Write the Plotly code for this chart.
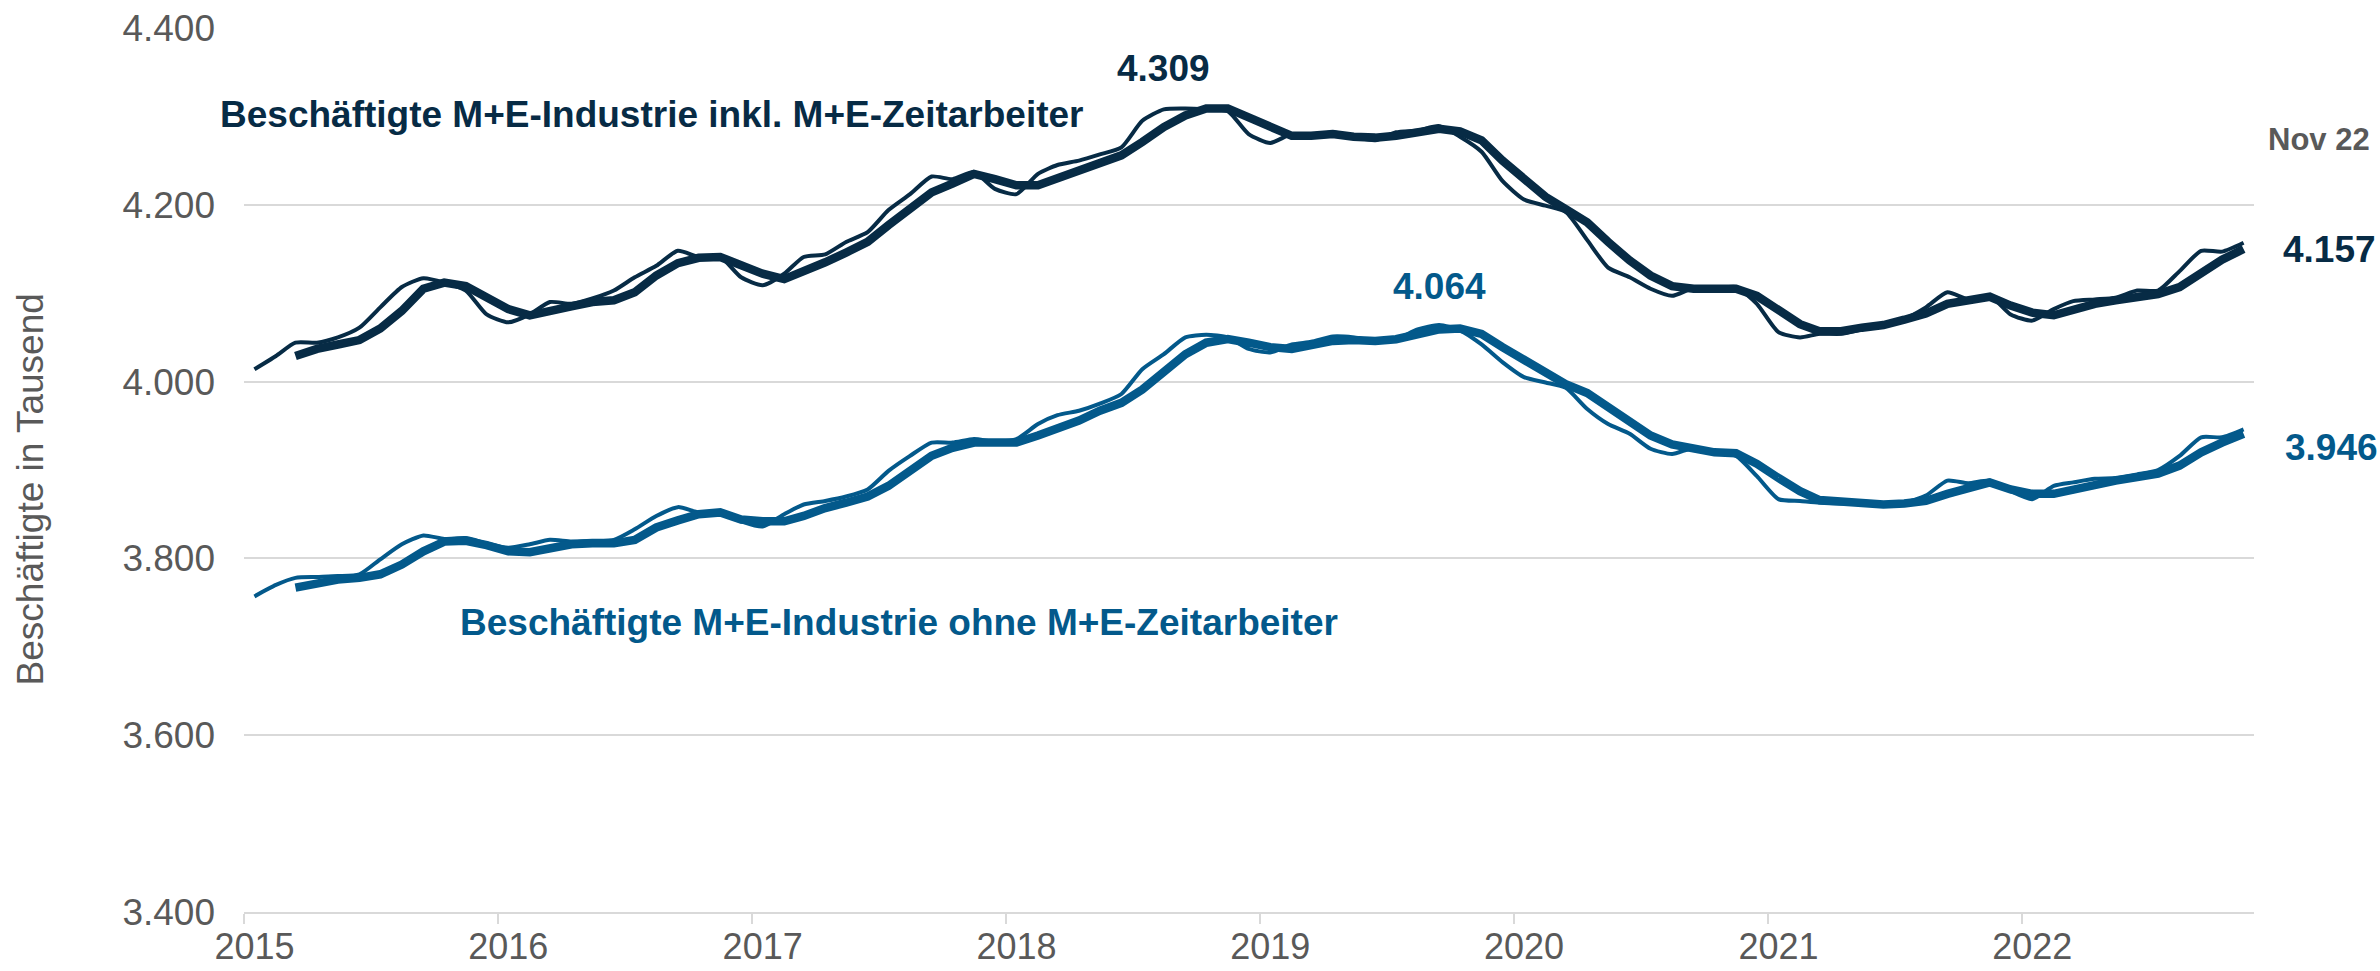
import pandas as pd
import plotly.graph_objects as go

# Monatswerte Jan 2015 - Nov 2022, Beschäftigte in Tausend
months = pd.date_range("2015-01-01", periods=95, freq="MS") + pd.Timedelta(days=15)

inkl_monthly = [
    4014, 4029, 4044, 4044, 4050, 4061, 4084, 4107, 4117, 4112, 4103, 4076,
    4067, 4076, 4090, 4088, 4094, 4103, 4118, 4131, 4148, 4141, 4141, 4118,
    4109, 4122, 4141, 4144, 4158, 4169, 4194, 4212, 4232, 4229, 4237, 4218,
    4212, 4235, 4245, 4250, 4257, 4265, 4295, 4308, 4309, 4308, 4306, 4280,
    4270, 4280, 4278, 4282, 4277, 4273, 4282, 4284, 4289, 4277, 4260, 4227,
    4206, 4199, 4192, 4160, 4129, 4118, 4105, 4097, 4106, 4105, 4107, 4088,
    4056, 4050, 4054, 4054, 4059, 4065, 4071, 4084, 4101, 4093, 4097, 4076,
    4069, 4082, 4091, 4093, 4095, 4103, 4103, 4125, 4148, 4147, 4157,
]

# gleitender Durchschnitt, ab Maerz 2015
inkl_trend = [
    4029, 4037, 4042, 4047, 4060, 4080, 4105, 4112, 4108, 4095,
    4082, 4075, 4079, 4085, 4090, 4092, 4101, 4120, 4134, 4140, 4141, 4131,
    4122, 4116, 4124, 4135, 4146, 4158, 4177, 4195, 4214, 4224, 4235, 4229,
    4222, 4222, 4230, 4237, 4248, 4256, 4271, 4288, 4301, 4309, 4309, 4299,
    4288, 4278, 4278, 4280, 4277, 4276, 4278, 4282, 4286, 4283, 4273, 4250,
    4228, 4209, 4195, 4180, 4158, 4137, 4120, 4108, 4105, 4104, 4105, 4097,
    4080, 4065, 4057, 4057, 4061, 4064, 4070, 4077, 4088, 4093, 4096, 4086,
    4078, 4075, 4082, 4088, 4092, 4095, 4099, 4107, 4124, 4138, 4150,
]

ohne_monthly = [
    3757, 3770, 3778, 3779, 3780, 3782, 3799, 3816, 3826, 3822, 3823, 3817,
    3812, 3816, 3821, 3819, 3820, 3821, 3833, 3848, 3858, 3852, 3852, 3842,
    3836, 3850, 3861, 3865, 3870, 3878, 3899, 3916, 3931, 3931, 3935, 3932,
    3935, 3952, 3962, 3967, 3975, 3986, 4014, 4031, 4050, 4053, 4050, 4037,
    4033, 4042, 4045, 4051, 4050, 4046, 4048, 4059, 4064, 4058, 4042, 4022,
    4005, 3999, 3993, 3969, 3952, 3941, 3924, 3918, 3925, 3920, 3916, 3893,
    3867, 3865, 3863, 3862, 3862, 3861, 3863, 3871, 3888, 3885, 3888, 3876,
    3867, 3882, 3886, 3890, 3891, 3895, 3900, 3916, 3937, 3937, 3946,
]

ohne_trend = [
    3767, 3772, 3776, 3778, 3782, 3793, 3808, 3819, 3820, 3815,
    3808, 3807, 3812, 3816, 3817, 3817, 3821, 3835, 3843, 3850, 3852, 3844,
    3842, 3842, 3848, 3857, 3863, 3870, 3882, 3899, 3916, 3925, 3931, 3931,
    3931, 3939, 3947, 3956, 3967, 3976, 3991, 4012, 4031, 4044, 4048, 4044,
    4039, 4037, 4042, 4046, 4047, 4046, 4048, 4054, 4059, 4060, 4054, 4039,
    4024, 4009, 3997, 3987, 3971, 3954, 3939, 3929, 3924, 3920, 3919, 3907,
    3891, 3876, 3866, 3864, 3863, 3861, 3862, 3865, 3873, 3880, 3886, 3878,
    3873, 3873, 3878, 3884, 3888, 3892, 3896, 3905, 3920, 3931, 3941,
]

year_labels = ["2015", "2016", "2017", "2018", "2019", "2020", "2021", "2022"]
y_ticks = [3400, 3600, 3800, 4000, 4200, 4400]

NAVY = "#072B45"
BLUE = "#03598B"
GRAY = "#595959"
GRID = "#D9D9D9"
FONT = "Arial, 'Liberation Sans', sans-serif"

fig = go.Figure()

# duenne Linien: Monatswerte (geglaettet wie im Original)
fig.add_trace(go.Scatter(x=months, y=inkl_monthly, mode="lines",
                         line=dict(color=NAVY, width=4, shape="spline", smoothing=0.6)))
fig.add_trace(go.Scatter(x=months, y=ohne_monthly, mode="lines",
                         line=dict(color=BLUE, width=4, shape="spline", smoothing=0.6)))
# dicke Linien: Trend
fig.add_trace(go.Scatter(x=months[2:], y=inkl_trend, mode="lines",
                         line=dict(color=NAVY, width=8.5)))
fig.add_trace(go.Scatter(x=months[2:], y=ohne_trend, mode="lines",
                         line=dict(color=BLUE, width=8.5)))

fig.update_layout(
    width=2380, height=971,
    margin=dict(l=244, r=126, t=28, b=59),
    paper_bgcolor="white", plot_bgcolor="white",
    showlegend=False,
    separators=",.",
    font=dict(family=FONT, size=37, color=GRAY),
)

fig.update_xaxes(
    type="date",
    range=["2015-01-01", "2022-12-01"],
    tickvals=months[0::12], ticktext=year_labels,
    ticks="", ticklabelstandoff=2, automargin=False,
    showgrid=False, zeroline=False,
    showline=True, linecolor=GRID, linewidth=2,
    tickfont=dict(size=36, color=GRAY),
    minor=dict(ticks="outside", ticklen=10, tickwidth=2, tickcolor=GRID,
               tick0="2015-01-01", dtick="M12", showgrid=False),
)

fig.update_yaxes(
    range=[3400, 4400],
    tickvals=y_ticks, tickformat=",d",
    ticks="", ticklabelstandoff=28, automargin=False,
    showgrid=True, gridcolor=GRID, gridwidth=2,
    zeroline=False, showline=False,
    tickfont=dict(size=37, color=GRAY),
)

# Beschriftungen
fig.add_annotation(x=months[43], y=4354, text="<b>4.309</b>", showarrow=False,
                   font=dict(size=37, color=NAVY))
fig.add_annotation(x=months[56], y=4108, text="<b>4.064</b>", showarrow=False,
                   font=dict(size=37, color=BLUE))
fig.add_annotation(xref="paper", x=-0.013, y=4302, xanchor="left",
                   text="<b>Beschäftigte M+E-Industrie inkl. M+E-Zeitarbeiter</b>",
                   showarrow=False, font=dict(size=37, color=NAVY))
fig.add_annotation(xref="paper", x=0.1066, y=3727, xanchor="left",
                   text="<b>Beschäftigte M+E-Industrie ohne M+E-Zeitarbeiter</b>",
                   showarrow=False, font=dict(size=37, color=BLUE))
fig.add_annotation(xref="paper", x=1.0134, y=4150, xanchor="left",
                   text="<b>4.157</b>", showarrow=False,
                   font=dict(size=37, color=NAVY))
fig.add_annotation(xref="paper", x=1.0144, y=3926, xanchor="left",
                   text="<b>3.946</b>", showarrow=False,
                   font=dict(size=37, color=BLUE))
fig.add_annotation(xref="paper", x=1.0324, y=4274, xanchor="center",
                   text="<b>Nov 22</b>", showarrow=False,
                   font=dict(size=31, color=GRAY))
fig.add_annotation(xref="paper", yref="paper", x=-0.106, y=0.478,
                   xanchor="center", yanchor="middle",
                   text="Beschäftigte in Tausend", textangle=-90,
                   showarrow=False, font=dict(size=37, color=GRAY))

# Seitenrand des Browsers entfernen, damit das Bild bei 0,0 beginnt
fig.write_html("out.html", config={"displayModeBar": False},
               post_script="document.body.style.margin='0px';")
